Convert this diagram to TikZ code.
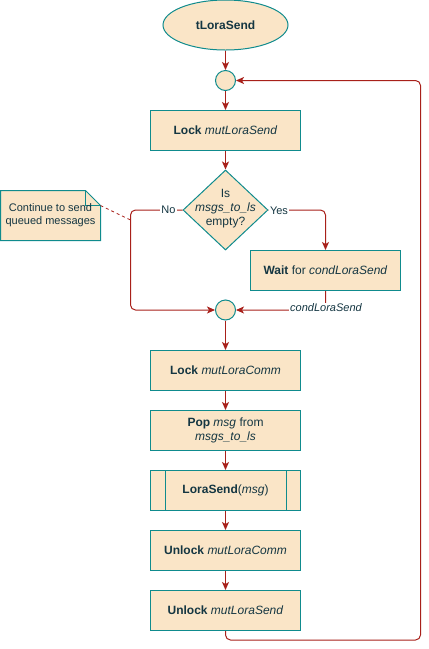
\documentclass[tikz,border=0pt]{standalone}
\usepackage{fontspec}
\setmainfont{Liberation Sans}
\usetikzlibrary{shapes.geometric,arrows.meta}
\definecolor{fillc}{HTML}{FAE5C7}
\definecolor{strokec}{HTML}{0F8B8D}
\definecolor{linec}{HTML}{A8201A}
\definecolor{textc}{HTML}{143642}
\tikzset{
  base/.style={draw=strokec, fill=fillc, line width=1pt, text=textc, inner sep=0pt, align=center, font=\fontsize{12}{14}\selectfont},
  procbox/.style={base, rectangle, minimum width=150pt, minimum height=40pt},
  dot/.style={base, circle, minimum size=20pt},
  startell/.style={base, ellipse, minimum width=125pt, minimum height=50pt},
  decshape/.style={base, diamond, minimum width=85pt, minimum height=80pt},
  txt/.style={text=textc, inner sep=0pt, align=center, font=\fontsize{12}{14}\selectfont},
  lbl/.style={text=textc, fill=white, inner sep=1pt, font=\fontsize{11}{13}\selectfont},
  conn/.style={draw=linec, line width=1pt, rounded corners=5pt, -{Stealth[length=8pt,width=7pt,inset=2pt]}},
}
\begin{document}
\begin{tikzpicture}[x=1pt,y=-1pt]
\useasboundingbox (0,0) rectangle (429,649);

\node[startell] (start) at (225.5,25) {\textbf{tLoraSend}};
\node[dot] (c1) at (225.5,80.5) {};
\node[procbox] (lock1) at (225.5,130.5) {\textbf{Lock} \textit{mutLoraSend}};
\node[decshape] (dec) at (225.5,210) {};
\node[txt] (dectxt) at (225.5,209) {Is\\\textit{msgs\_to\_ls}\\empty?};
\node[procbox] (wait) at (325.5,270.5) {\textbf{Wait} for \textit{condLoraSend}};
\node[dot] (c2) at (225.5,310) {};
\node[procbox] (lock2) at (225.5,370.5) {\textbf{Lock} \textit{mutLoraComm}};
\node[procbox] (pop) at (225.5,430.5) {\textbf{Pop} \textit{msg} from\\\textit{msgs\_to\_ls}};
\node[procbox] (lsend) at (225.5,490.5) {\textbf{LoraSend}(\textit{msg})};
\draw[draw=strokec, line width=1pt] ([xshift=15pt]lsend.north west) -- ([xshift=15pt]lsend.south west);
\draw[draw=strokec, line width=1pt] ([xshift=-15pt]lsend.north east) -- ([xshift=-15pt]lsend.south east);
\node[procbox] (unlock1) at (225.5,550.5) {\textbf{Unlock} \textit{mutLoraComm}};
\node[procbox] (unlock2) at (225.5,610.5) {\textbf{Unlock} \textit{mutLoraSend}};

% note
\draw[draw=strokec, fill=fillc, line width=1pt, line join=miter]
  (0.5,190.5) -- (85.5,190.5) -- (100.5,205.5) -- (100.5,240.5) -- (0.5,240.5) -- cycle;
\draw[draw=strokec, line width=1pt] (85.5,190.5) -- (85.5,205.5) -- (100.5,205.5);
\node[txt, font=\fontsize{11}{13}\selectfont] (note) at (50.5,215.5) {Continue to send\\queued messages};
\coordinate (notept) at (100.5,205.5);
\coordinate (nopt) at (130.5,220);
\draw[draw=linec, line width=0.8pt, dash pattern=on 3pt off 3pt] (notept) -- (nopt);

% connectors
\draw[conn] (start) -- (c1);
\draw[conn] (c1) -- (lock1);
\draw[conn] (lock1) -- (dec);
\coordinate (nocorner) at (130.5,210);
\draw[conn] (dec.west) -- (nocorner) |- (c2.west);
\node[lbl] (nolbl) at (168.5,210) {No};
\draw[conn] (dec.east) -| (wait.north);
\node[lbl] (yeslbl) at (279,211) {Yes};
\draw[conn] (wait.south) |- (c2.east);
\node[lbl, font=\fontsize{11}{13}\selectfont\itshape] (condlbl) at (326,308) {condLoraSend};
\draw[conn] (c2) -- (lock2);
\draw[conn] (lock2) -- (pop);
\draw[conn] (pop) -- (lsend);
\draw[conn] (lsend) -- (unlock1);
\draw[conn] (unlock1) -- (unlock2);
\coordinate (loopcorner) at (420.5,640);
\draw[conn] (unlock2.south) |- (loopcorner) |- (c1.east);
\end{tikzpicture}
\end{document}
